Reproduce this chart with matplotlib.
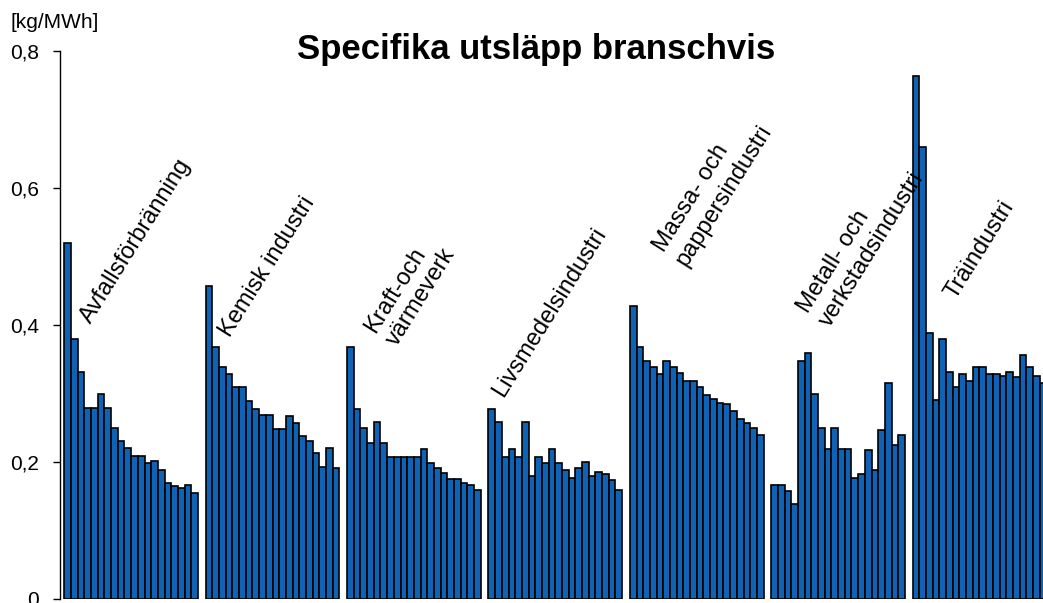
import matplotlib
matplotlib.use("Agg")
import matplotlib.pyplot as plt
import numpy as np

plt.rcParams['font.family'] = ['Liberation Sans', 'DejaVu Sans']

categories = ["Avfallsförbränning", "Kemisk industri", "Kraft-och\nvärmeverk",
              "Livsmedelsindustri", "Massa- och\npappersindustri",
              "Metall- och\nverkstadsindustri", "Träindustri"]

avfall = [0.52, 0.38, 0.331, 0.279, 0.279, 0.30, 0.279, 0.25, 0.23, 0.22,
          0.209, 0.209, 0.199, 0.202, 0.189, 0.169, 0.165, 0.162, 0.167, 0.155]
kemisk = [0.457, 0.368, 0.338, 0.328, 0.309, 0.309, 0.289, 0.278, 0.269, 0.269,
          0.248, 0.248, 0.267, 0.257, 0.238, 0.231, 0.213, 0.192, 0.22, 0.191]
kraft = [0.368, 0.278, 0.249, 0.228, 0.258, 0.228, 0.207, 0.207, 0.207, 0.207,
         0.207, 0.219, 0.199, 0.191, 0.184, 0.175, 0.175, 0.170, 0.167, 0.159]
livsmedel = [0.278, 0.258, 0.208, 0.219, 0.208, 0.258, 0.179, 0.208, 0.199, 0.219,
             0.199, 0.188, 0.176, 0.191, 0.200, 0.179, 0.185, 0.182, 0.173, 0.159]
massa = [0.428, 0.368, 0.348, 0.338, 0.329, 0.348, 0.338, 0.330, 0.318, 0.318,
         0.309, 0.298, 0.292, 0.286, 0.284, 0.275, 0.263, 0.257, 0.250, 0.239]
metall = [0.167, 0.167, 0.158, 0.139, 0.348, 0.359, 0.299, 0.249, 0.219, 0.249,
          0.219, 0.219, 0.176, 0.182, 0.218, 0.188, 0.247, 0.315, 0.225, 0.239]
tra = [0.763, 0.660, 0.388, 0.290, 0.379, 0.331, 0.309, 0.329, 0.318, 0.339,
       0.339, 0.329, 0.329, 0.326, 0.331, 0.324, 0.356, 0.339, 0.326, 0.316]

groups = [avfall, kemisk, kraft, livsmedel, massa, metall, tra]
yticks = [0, 0.2, 0.4, 0.6, 0.8]
yticklabels = ["0", "0,2", "0,4", "0,6", "0,8"]

# label anchor (offset from group start in bar units, y in data units)
label_pos = [(3.49, 0.401), (3.14, 0.381), (7.57, 0.364), (1.67, 0.293),
             (8.5, 0.481), (8.9, 0.392), (5.84, 0.436)]

W, H = 1043, 603
fig = plt.figure(figsize=(W / 100, H / 100), dpi=100)
ax = fig.add_axes([60 / W, 4 / H, (W - 60) / W, 548 / H])

gap = 1.15
period = 20 + gap
color = '#0F63B5'
for gi, vals in enumerate(groups):
    x = gi * period + np.arange(len(vals))
    ax.bar(x, vals, width=1.0, color=color, edgecolor='black', linewidth=1.2)
    lx, ly = label_pos[gi]
    nlines = categories[gi].count("\n") + 1
    ax.text(gi * period + lx, ly, categories[gi], rotation=58,
            rotation_mode='anchor', ha='left',
            va='baseline' if nlines == 1 else 'bottom',
            fontsize=17, color='black', linespacing=1.2)

ax.set_xlim(-1.14, 145.9)
ax.set_ylim(0, 0.8)
ax.set_yticks(yticks)
ax.set_yticklabels(yticklabels, fontsize=15)
ax.tick_params(axis='y', direction='out', length=5, width=1, pad=10)
ax.set_xticks([])
for s in ['top', 'right', 'bottom']:
    ax.spines[s].set_visible(False)
ax.spines['left'].set_linewidth(1.0)

fig.text(536 / W, 1 - 50 / H, "Specifika utsläpp branschvis", ha='center',
         va='center', fontsize=25, fontweight='bold')
fig.text(10 / W, 1 - 22 / H, "[kg/MWh]", ha='left', va='center', fontsize=15)

fig.savefig("out.png", dpi=100)
